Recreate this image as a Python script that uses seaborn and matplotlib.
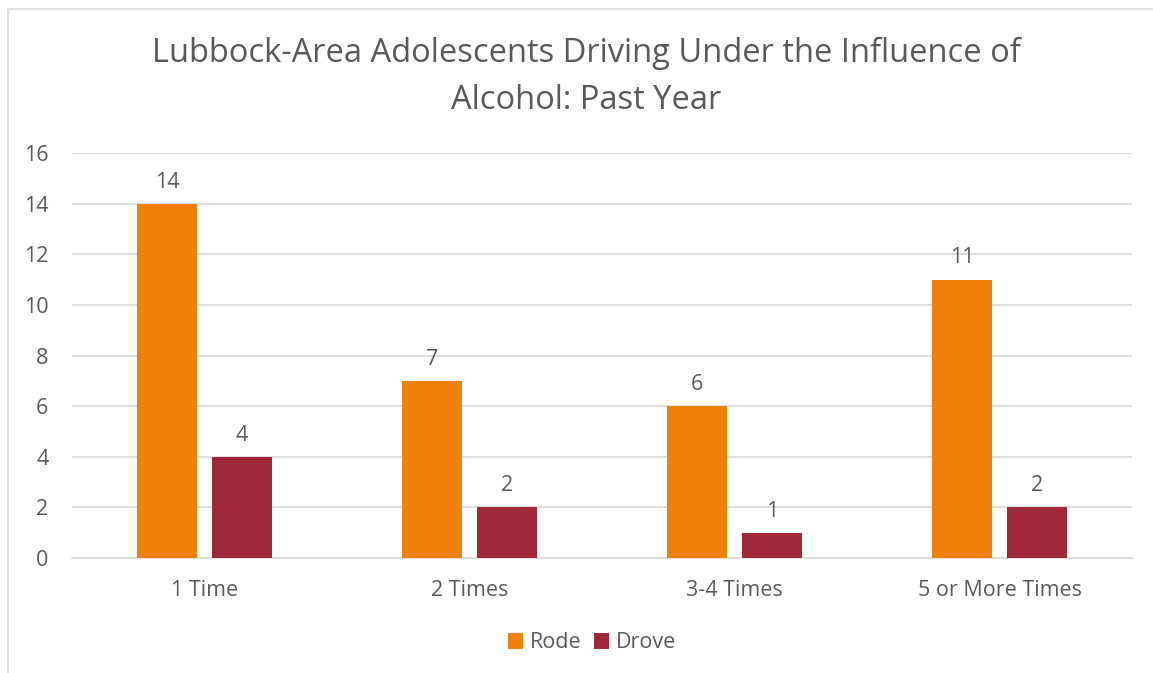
import matplotlib
matplotlib.use("Agg")
import matplotlib.pyplot as plt
import seaborn as sns
import pandas as pd
from matplotlib.patches import Rectangle

categories = ["1 Time", "2 Times", "3-4 Times", "5 or More Times"]
rode = [14, 7, 6, 11]
drove = [4, 2, 1, 2]
series = ["Rode", "Drove"]
title = "Lubbock-Area Adolescents Driving Under the Influence of\nAlcohol: Past Year"

df = pd.DataFrame({
    "category": categories * 2,
    "value": rode + drove,
    "series": [series[0]] * len(categories) + [series[1]] * len(categories),
})

sns.set_theme(style="white")
plt.rcParams["font.family"] = ["Open Sans", "DejaVu Sans"]
text_color = "#595959"
colors = {"Rode": "#F08009", "Drove": "#A12838"}
fs = 15.5

W, H = 1153, 673
fig = plt.figure(figsize=(W / 100, H / 100), dpi=100)
ax = fig.add_axes([72 / W, 1 - 558 / H, (1132 - 72) / W, (558 - 153) / H])

sns.barplot(data=df, x="category", y="value", hue="series", order=categories,
            hue_order=series, palette=colors, width=0.566, gap=0.21,
            saturation=1, ax=ax, legend=True, edgecolor="none", zorder=3)

ax.set_ylim(0, 16)
ax.set_yticks(range(0, 17, 2))
ax.yaxis.grid(True, color="#D9D9D9", linewidth=1.2, zorder=0)
ax.set_axisbelow(True)
for s in ["top", "right", "left"]:
    ax.spines[s].set_visible(False)
ax.spines["bottom"].set_color("#D9D9D9")
ax.spines["bottom"].set_linewidth(1.2)
ax.set_xlabel("")
ax.set_ylabel("")
ax.tick_params(axis="both", length=0, colors=text_color, labelsize=fs)
ax.tick_params(axis="y", pad=17)
ax.tick_params(axis="x", pad=15.5)

for cont in ax.containers:
    ax.bar_label(cont, fmt="%d", padding=8, color=text_color, fontsize=fs)

leg = ax.get_legend()
handles, labels = ax.get_legend_handles_labels()
leg.remove()
fig.legend(handles, labels, loc="center", bbox_to_anchor=(592 / W, 1 - 643 / H),
           ncol=2, frameon=False, fontsize=fs, labelcolor=text_color,
           handlelength=0.7, handleheight=0.7, handletextpad=0.3, columnspacing=0.6)

fig.text(586 / W, 1 - 77 / H, title, ha="center", va="center", fontsize=23.5,
         color=text_color, linespacing=1.55)

fig.patches.append(Rectangle((8 / W, -0.01), 1.02, 1 - 9 / H + 0.01, transform=fig.transFigure,
                             fill=False, edgecolor="#D9D9D9", linewidth=1.2))

fig.savefig("out.png", dpi=100, facecolor="white")
